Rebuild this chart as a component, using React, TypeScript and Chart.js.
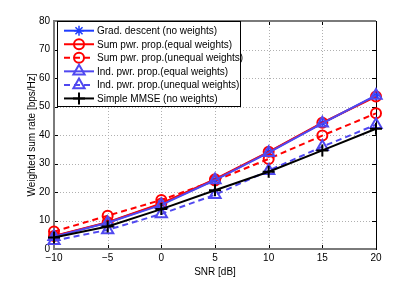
import React, { useEffect, useRef } from 'react';
import { Chart, registerables } from 'chart.js';
import { drawPoint } from 'chart.js/helpers';

Chart.register(...registerables);

// ---- data ----
const snrDb = [-10, -5, 0, 5, 10, 15, 20];
const gradDescent = [4.5, 9.3, 15.8, 24.3, 34.0, 44.2, 53.8];
const sumPwrEqual = [4.6, 9.4, 16.0, 24.5, 34.1, 44.3, 53.5];
const sumPwrUnequal = [6.1, 11.7, 17.2, 24.0, 31.6, 39.8, 47.6];
const indPwrEqual = [4.3, 9.2, 15.5, 24.2, 33.8, 44.1, 53.9];
const indPwrUnequal = [2.9, 6.7, 12.3, 19.0, 27.5, 35.9, 43.6];
const simpleMmse = [4.0, 7.9, 14.0, 20.6, 27.1, 34.6, 42.2];

const seriesLabels = [
  'Grad. descent (no weights)',
  'Sum pwr. prop.(equal weights)',
  'Sum pwr. prop.(unequal weights)',
  'Ind. pwr. prop.(equal weights)',
  'Ind. pwr. prop.(unequal weights)',
  'Simple MMSE (no weights)',
];
const seriesValues = [gradDescent, sumPwrEqual, sumPwrUnequal, indPwrEqual, indPwrUnequal, simpleMmse];

const xTitle = 'SNR [dB]';
const yTitle = 'Weighted sum rate [bps/Hz]';

// ---- styles ----
const FONT = '"Liberation Sans", Arial, Helvetica, sans-serif';
const BLUE = '#1f3dff';
const VIOLET = '#5048f0';
const RED = '#ff0000';
const seriesStyles = [
  { color: BLUE, dash: [] as number[], point: 'star', r: 5, bw: 1.5 },
  { color: RED, dash: [], point: 'circle', r: 5, bw: 2 },
  { color: RED, dash: [6, 4], point: 'circle', r: 5, bw: 2 },
  { color: VIOLET, dash: [], point: 'triangle', r: 6.5, bw: 2 },
  { color: VIOLET, dash: [6, 4], point: 'triangle', r: 6.5, bw: 2 },
  { color: '#000000', dash: [], point: 'cross', r: 6, bw: 2 },
];

const fmt = (v: number) => (v < 0 ? '\u2212' + Math.abs(v) : String(v));

const framePlugin = {
  id: 'frame',
  beforeDatasetsDraw(chart: any) {
    const { ctx, chartArea: a, scales } = chart;
    const x = scales.x;
    const y = scales.y;
    ctx.save();
    // dotted grid
    ctx.strokeStyle = '#b0b0b0';
    ctx.lineWidth = 1;
    ctx.setLineDash([1, 2]);
    x.ticks.forEach((t: any) => {
      const px = Math.round(x.getPixelForValue(t.value)) + 0.5;
      if (px > a.left + 2 && px < a.right - 2) {
        ctx.beginPath();
        ctx.moveTo(px, a.top);
        ctx.lineTo(px, a.bottom);
        ctx.stroke();
      }
    });
    y.ticks.forEach((t: any) => {
      const py = Math.round(y.getPixelForValue(t.value)) + 0.5;
      if (py > a.top + 2 && py < a.bottom - 2) {
        ctx.beginPath();
        ctx.moveTo(a.left, py);
        ctx.lineTo(a.right, py);
        ctx.stroke();
      }
    });
    ctx.setLineDash([]);
    // inside tick marks
    ctx.strokeStyle = '#000';
    const tl = 4;
    x.ticks.forEach((t: any) => {
      const px = Math.round(x.getPixelForValue(t.value)) + 0.5;
      ctx.beginPath();
      ctx.moveTo(px, a.bottom);
      ctx.lineTo(px, a.bottom - tl);
      ctx.moveTo(px, a.top);
      ctx.lineTo(px, a.top + tl);
      ctx.stroke();
    });
    y.ticks.forEach((t: any) => {
      const py = Math.round(y.getPixelForValue(t.value)) + 0.5;
      ctx.beginPath();
      ctx.moveTo(a.left, py);
      ctx.lineTo(a.left + tl, py);
      ctx.moveTo(a.right, py);
      ctx.lineTo(a.right - tl, py);
      ctx.stroke();
    });
    // frame
    ctx.strokeStyle = '#7a7a7a';
    ctx.lineWidth = 2;
    ctx.beginPath();
    ctx.moveTo(a.right, a.top);
    ctx.lineTo(a.left, a.top);
    ctx.lineTo(a.left, a.bottom);
    ctx.lineTo(a.right, a.bottom);
    ctx.stroke();
    ctx.strokeStyle = '#000';
    ctx.lineWidth = 1;
    ctx.beginPath();
    ctx.moveTo(Math.round(a.right) + 0.5, a.top);
    ctx.lineTo(Math.round(a.right) + 0.5, a.bottom + 1);
    ctx.stroke();
    ctx.restore();
  },
};

const legendPlugin = {
  id: 'boxLegend',
  afterDraw(chart: any) {
    const { ctx, chartArea: a } = chart;
    const bx = Math.round(a.left) + 3;
    const by = Math.round(a.top) + 0;
    const bw = 183;
    const bh = 85;
    ctx.save();
    ctx.fillStyle = '#ffffff';
    ctx.fillRect(bx, by, bw, bh);
    ctx.strokeStyle = '#000';
    ctx.lineWidth = 1;
    ctx.strokeRect(bx + 0.5, by + 0.5, bw, bh);
    ctx.font = '10px ' + FONT;
    ctx.textBaseline = 'middle';
    ctx.textAlign = 'left';
    seriesLabels.forEach((label, i) => {
      const st = seriesStyles[i];
      const yy = by + 9.7 + i * 13.55;
      ctx.strokeStyle = st.color;
      ctx.lineWidth = 2;
      ctx.setLineDash(st.dash);
      ctx.beginPath();
      ctx.moveTo(bx + 7, yy);
      ctx.lineTo(bx + 37, yy);
      ctx.stroke();
      ctx.setLineDash([]);
      ctx.fillStyle = 'rgba(0,0,0,0)';
      ctx.lineWidth = st.bw;
      drawPoint(ctx, { pointStyle: st.point as any, rotation: 0, radius: st.r, borderWidth: st.bw } as any, bx + 22, yy);
      ctx.fillStyle = '#000';
      ctx.fillText(label, bx + 40, yy + 0.5);
    });
    ctx.restore();
  },
};

export default function App() {
  const ref = useRef<HTMLCanvasElement>(null);
  useEffect(() => {
    if (!ref.current) return;
    Chart.defaults.font.family = FONT;
    Chart.defaults.font.size = 10;
    Chart.defaults.color = '#000';
    const datasets = seriesValues.map((vals, i) => {
      const st = seriesStyles[i];
      return {
        label: seriesLabels[i],
        data: snrDb.map((x, j) => ({ x, y: vals[j] })),
        borderColor: st.color,
        backgroundColor: 'rgba(0,0,0,0)',
        borderWidth: 2,
        borderDash: st.dash,
        pointStyle: st.point,
        pointRadius: st.r,
        pointBorderWidth: st.bw,
        pointBorderColor: st.color,
        pointBackgroundColor: 'rgba(0,0,0,0)',
        fill: false,
        tension: 0,
        clip: false as any,
        order: seriesValues.length - i,
      };
    });
    const chart = new Chart(ref.current, {
      type: 'line',
      data: { datasets: datasets as any },
      options: {
        animation: false,
        responsive: false,
        devicePixelRatio: 1,
        layout: { padding: { top: 21, right: 39, left: 0, bottom: 0 } },
        plugins: { legend: { display: false }, tooltip: { enabled: false } },
        scales: {
          x: {
            type: 'linear',
            min: -10,
            max: 20,
            ticks: { stepSize: 5, padding: 3, callback: (v: any) => fmt(Number(v)), maxRotation: 0, font: { size: 10 } },
            grid: { display: false, drawTicks: false },
            border: { display: false },
            title: { display: true, text: xTitle, font: { size: 10 }, padding: { top: 0, bottom: 3 } },
            afterFit: (s: any) => { s.height = 32; },
          },
          y: {
            type: 'linear',
            min: 0,
            max: 80,
            ticks: { stepSize: 10, padding: 4, callback: (v: any) => fmt(Number(v)), font: { size: 10 } },
            grid: { display: false, drawTicks: false },
            border: { display: false },
            title: { display: true, text: yTitle, font: { size: 10 }, padding: { top: 26, bottom: 0 } },
            afterFit: (s: any) => { s.width = 54; },
          },
        },
      },
      plugins: [framePlugin, legendPlugin],
    });
    return () => chart.destroy();
  }, []);
  return (
    <div style={{ position: 'absolute', left: 0, top: 0, width: 415, height: 281, background: '#fff' }}>
      <canvas ref={ref} width={415} height={281} style={{ display: 'block' }} />
    </div>
  );
}
